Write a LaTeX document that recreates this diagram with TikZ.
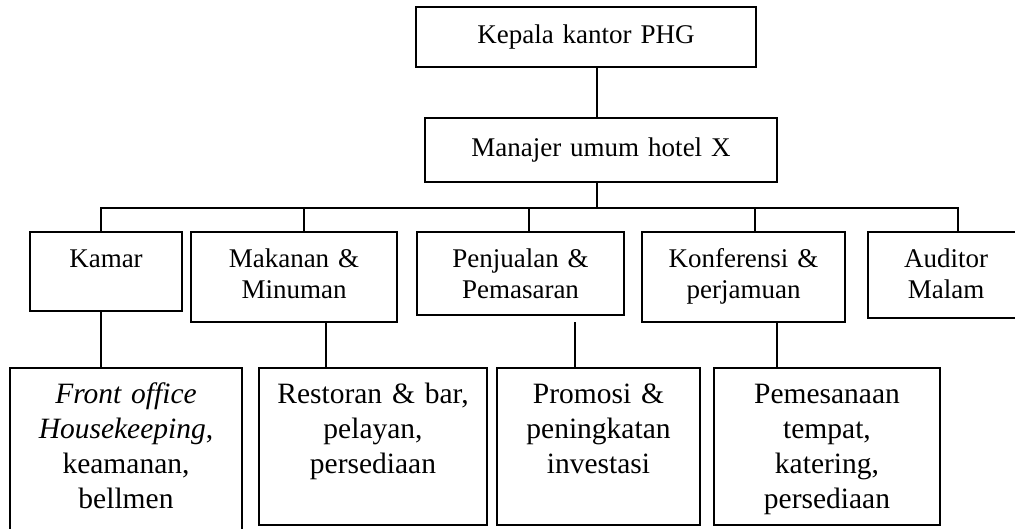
\documentclass[tikz,border=0pt]{standalone}
\usepackage{fontspec}
\setmainfont{Liberation Serif}
\usepackage{tikz}
\usetikzlibrary{calc}
\tikzset{
  unit box/.style={
    draw,
    line width=1.8pt,
    inner sep=0pt,
    align=center,
    anchor=north,
    text height=36pt
  },
  head font/.style={font=\fontsize{27}{31}\selectfont},
  task font/.style={font=\fontsize{29.5}{35}\selectfont},
  link/.style={
    line width=1.8pt,
    line cap=rect
  }
}

\begin{document}
\begin{tikzpicture}[x=1pt, y=-1pt]
    % 1 unit = 1 pixel of the sheet
    \useasboundingbox (0,0) rectangle (1015,528);
    \clip (0,0) rectangle (1015,528);

    % pimpinan
    \node[unit box, head font, text width=340pt, text height=37pt, text depth=23pt]
      (kepala) at (586,6) {Kepala kantor PHG};
    \node[unit box, head font, text width=352pt, text height=39pt, text depth=25pt]
      (manajer) at (601,117) {Manajer umum hotel X};

    % bagian
    \node[unit box, head font, text width=152pt, text depth=43pt]
      (kamar) at (106,231) {Kamar};
    \node[unit box, head font, text width=206pt, text depth=54pt]
      (makan) at (294,231) {Makanan \&\\Minuman};
    \node[unit box, head font, text width=207pt, text depth=47pt]
      (jual) at (520.5,231) {Penjualan \&\\Pemasaran};
    \node[unit box, head font, text width=203pt, text depth=54pt]
      (konf) at (743.5,231) {Konferensi \&\\perjamuan};
    \node[unit box, head font, text width=156pt, text depth=50pt]
      (audit) at (946,231) {Auditor\\Malam};

    % tugas
    \node[unit box, task font, text width=232pt, text depth=150pt]
      (front) at (126,367) {\textit{Front office}\\\textit{Housekeeping},\\keamanan,\\bellmen};
    \node[unit box, task font, text width=228pt, text depth=121pt]
      (resto) at (373,367) {Restoran \& bar,\\pelayan,\\persediaan};
    \node[unit box, task font, text width=203pt, text depth=121pt]
      (promo) at (598.5,367) {Promosi \&\\peningkatan\\investasi};
    \node[unit box, task font, text width=226pt, text depth=121pt]
      (pesan) at (827,367) {Pemesanaan\\tempat,\\katering,\\persediaan};

    % garis komando
    \coordinate (hub) at (597,208);
    \draw[link] (hub |- kepala.south) -- (hub |- manajer.north);
    \draw[link] (hub |- manajer.south) -- (hub);
    \coordinate (busL) at (101,208);
    \coordinate (busR) at (958,208);
    \draw[link] (busL) -- (busR);
    \foreach \dept/\x in {kamar/101, makan/304, jual/529, konf/755, audit/958} {
      \coordinate (\dept tap) at (\x,208);
      \draw[link] (\dept tap) -- (\dept tap |- \dept.north);
    }
    \foreach \dept/\task/\x/\gap in {kamar/front/101/0, makan/resto/326/0, jual/promo/575/7, konf/pesan/777/0} {
      \coordinate (\task tap) at (\x,0);
      \draw[link, shorten <=\gap pt] (\task tap |- \dept.south) -- (\task tap |- \task.north);
    }

  \end{tikzpicture}
\end{document}
